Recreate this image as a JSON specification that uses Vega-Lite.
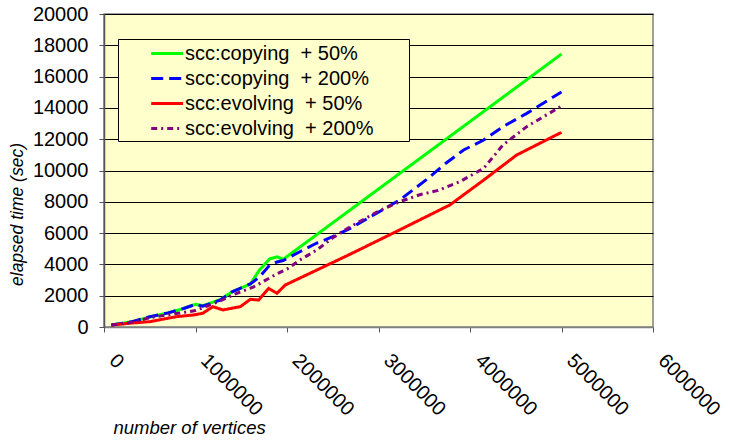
{
  "$schema": "https://vega.github.io/schema/vega-lite/v6.json",
  "width": 549,
  "height": 313,
  "autosize": {"type": "none"},
  "padding": {"left": 104, "top": 14, "right": 78, "bottom": 113},
  "background": "white",
  "config": {
    "font": "Liberation Sans",
    "view": {"fill": "#FFFFCC", "stroke": "#808080", "strokeWidth": 1.5}
  },
  "data": {
    "values": [
      {"series": "scc:copying\u00a0 + 50%", "x": 80000, "y": 130},
      {"series": "scc:copying\u00a0 + 50%", "x": 300000, "y": 330},
      {"series": "scc:copying\u00a0 + 50%", "x": 500000, "y": 640},
      {"series": "scc:copying\u00a0 + 50%", "x": 700000, "y": 900},
      {"series": "scc:copying\u00a0 + 50%", "x": 870000, "y": 1180},
      {"series": "scc:copying\u00a0 + 50%", "x": 1000000, "y": 1450},
      {"series": "scc:copying\u00a0 + 50%", "x": 1080000, "y": 1360},
      {"series": "scc:copying\u00a0 + 50%", "x": 1270000, "y": 1750},
      {"series": "scc:copying\u00a0 + 50%", "x": 1400000, "y": 2250},
      {"series": "scc:copying\u00a0 + 50%", "x": 1600000, "y": 2750},
      {"series": "scc:copying\u00a0 + 50%", "x": 1700000, "y": 3650},
      {"series": "scc:copying\u00a0 + 50%", "x": 1810000, "y": 4350},
      {"series": "scc:copying\u00a0 + 50%", "x": 1890000, "y": 4480},
      {"series": "scc:copying\u00a0 + 50%", "x": 1960000, "y": 4330},
      {"series": "scc:copying\u00a0 + 50%", "x": 5000000, "y": 17440},

      {"series": "scc:copying\u00a0 + 200%", "x": 80000, "y": 130},
      {"series": "scc:copying\u00a0 + 200%", "x": 300000, "y": 330},
      {"series": "scc:copying\u00a0 + 200%", "x": 500000, "y": 650},
      {"series": "scc:copying\u00a0 + 200%", "x": 700000, "y": 900},
      {"series": "scc:copying\u00a0 + 200%", "x": 870000, "y": 1180},
      {"series": "scc:copying\u00a0 + 200%", "x": 1000000, "y": 1450},
      {"series": "scc:copying\u00a0 + 200%", "x": 1080000, "y": 1330},
      {"series": "scc:copying\u00a0 + 200%", "x": 1270000, "y": 1720},
      {"series": "scc:copying\u00a0 + 200%", "x": 1400000, "y": 2250},
      {"series": "scc:copying\u00a0 + 200%", "x": 1600000, "y": 2750},
      {"series": "scc:copying\u00a0 + 200%", "x": 1700000, "y": 3200},
      {"series": "scc:copying\u00a0 + 200%", "x": 1810000, "y": 3950},
      {"series": "scc:copying\u00a0 + 200%", "x": 1890000, "y": 4150},
      {"series": "scc:copying\u00a0 + 200%", "x": 1960000, "y": 4250},
      {"series": "scc:copying\u00a0 + 200%", "x": 2140000, "y": 4810},
      {"series": "scc:copying\u00a0 + 200%", "x": 2320000, "y": 5350},
      {"series": "scc:copying\u00a0 + 200%", "x": 2500000, "y": 5770},
      {"series": "scc:copying\u00a0 + 200%", "x": 2690000, "y": 6300},
      {"series": "scc:copying\u00a0 + 200%", "x": 3230000, "y": 8110},
      {"series": "scc:copying\u00a0 + 200%", "x": 3520000, "y": 9400},
      {"series": "scc:copying\u00a0 + 200%", "x": 3740000, "y": 10480},
      {"series": "scc:copying\u00a0 + 200%", "x": 3930000, "y": 11310},
      {"series": "scc:copying\u00a0 + 200%", "x": 4150000, "y": 11950},
      {"series": "scc:copying\u00a0 + 200%", "x": 4360000, "y": 12800},
      {"series": "scc:copying\u00a0 + 200%", "x": 4620000, "y": 13650},
      {"series": "scc:copying\u00a0 + 200%", "x": 5000000, "y": 15020},

      {"series": "scc:evolving\u00a0 + 50%", "x": 80000, "y": 120},
      {"series": "scc:evolving\u00a0 + 50%", "x": 300000, "y": 250},
      {"series": "scc:evolving\u00a0 + 50%", "x": 500000, "y": 340},
      {"series": "scc:evolving\u00a0 + 50%", "x": 790000, "y": 660},
      {"series": "scc:evolving\u00a0 + 50%", "x": 980000, "y": 770},
      {"series": "scc:evolving\u00a0 + 50%", "x": 1080000, "y": 880},
      {"series": "scc:evolving\u00a0 + 50%", "x": 1190000, "y": 1300},
      {"series": "scc:evolving\u00a0 + 50%", "x": 1300000, "y": 1090},
      {"series": "scc:evolving\u00a0 + 50%", "x": 1490000, "y": 1300},
      {"series": "scc:evolving\u00a0 + 50%", "x": 1600000, "y": 1770},
      {"series": "scc:evolving\u00a0 + 50%", "x": 1690000, "y": 1720},
      {"series": "scc:evolving\u00a0 + 50%", "x": 1800000, "y": 2470},
      {"series": "scc:evolving\u00a0 + 50%", "x": 1890000, "y": 2150},
      {"series": "scc:evolving\u00a0 + 50%", "x": 1980000, "y": 2680},
      {"series": "scc:evolving\u00a0 + 50%", "x": 2690000, "y": 4650},
      {"series": "scc:evolving\u00a0 + 50%", "x": 3230000, "y": 6200},
      {"series": "scc:evolving\u00a0 + 50%", "x": 3780000, "y": 7800},
      {"series": "scc:evolving\u00a0 + 50%", "x": 4150000, "y": 9390},
      {"series": "scc:evolving\u00a0 + 50%", "x": 4510000, "y": 10990},
      {"series": "scc:evolving\u00a0 + 50%", "x": 5000000, "y": 12440},

      {"series": "scc:evolving\u00a0 + 200%", "x": 80000, "y": 120},
      {"series": "scc:evolving\u00a0 + 200%", "x": 300000, "y": 300},
      {"series": "scc:evolving\u00a0 + 200%", "x": 500000, "y": 590},
      {"series": "scc:evolving\u00a0 + 200%", "x": 700000, "y": 780},
      {"series": "scc:evolving\u00a0 + 200%", "x": 870000, "y": 930},
      {"series": "scc:evolving\u00a0 + 200%", "x": 1000000, "y": 1050},
      {"series": "scc:evolving\u00a0 + 200%", "x": 1200000, "y": 1500},
      {"series": "scc:evolving\u00a0 + 200%", "x": 1300000, "y": 1750},
      {"series": "scc:evolving\u00a0 + 200%", "x": 1450000, "y": 2150},
      {"series": "scc:evolving\u00a0 + 200%", "x": 1630000, "y": 2550},
      {"series": "scc:evolving\u00a0 + 200%", "x": 1800000, "y": 3100},
      {"series": "scc:evolving\u00a0 + 200%", "x": 1890000, "y": 3400},
      {"series": "scc:evolving\u00a0 + 200%", "x": 2000000, "y": 3700},
      {"series": "scc:evolving\u00a0 + 200%", "x": 2140000, "y": 4280},
      {"series": "scc:evolving\u00a0 + 200%", "x": 2320000, "y": 4900},
      {"series": "scc:evolving\u00a0 + 200%", "x": 2500000, "y": 5700},
      {"series": "scc:evolving\u00a0 + 200%", "x": 2690000, "y": 6400},
      {"series": "scc:evolving\u00a0 + 200%", "x": 3000000, "y": 7400},
      {"series": "scc:evolving\u00a0 + 200%", "x": 3230000, "y": 8000},
      {"series": "scc:evolving\u00a0 + 200%", "x": 3450000, "y": 8450},
      {"series": "scc:evolving\u00a0 + 200%", "x": 3640000, "y": 8710},
      {"series": "scc:evolving\u00a0 + 200%", "x": 3890000, "y": 9290},
      {"series": "scc:evolving\u00a0 + 200%", "x": 4150000, "y": 10140},
      {"series": "scc:evolving\u00a0 + 200%", "x": 4360000, "y": 11630},
      {"series": "scc:evolving\u00a0 + 200%", "x": 4620000, "y": 12800},
      {"series": "scc:evolving\u00a0 + 200%", "x": 5000000, "y": 14120}
    ]
  },
  "mark": {"type": "line", "strokeWidth": 3},
  "encoding": {
    "x": {
      "field": "x", "type": "quantitative",
      "scale": {"domain": [0, 6000000], "nice": false},
      "axis": {
        "title": "number of vertices",
        "titleFont": "Liberation Sans", "titleFontSize": 18.5, "titleFontStyle": "italic", "titleFontWeight": "normal",
        "titleAnchor": "start", "titleAlign": "left", "titleBaseline": "alphabetic",
        "titleX": 9, "titleY": 106, "titleColor": "black",
        "values": [0, 1000000, 2000000, 3000000, 4000000, 5000000, 6000000],
        "format": "d",
        "grid": false,
        "labelAngle": 45, "labelAlign": "left", "labelBaseline": "top",
        "labelPadding": 18, "labelOffset": 15,
        "labelFontSize": 20, "labelColor": "black",
        "labelOverlap": false, "labelFlush": false, "labelBound": false,
        "tickSize": 5, "tickColor": "#555555", "domainColor": "#808080", "domainWidth": 1.5
      }
    },
    "y": {
      "field": "y", "type": "quantitative",
      "scale": {"domain": [0, 20000], "nice": false},
      "axis": {
        "title": "elapsed time (sec)",
        "titleFont": "Liberation Sans", "titleFontSize": 17.5, "titleFontStyle": "italic", "titleFontWeight": "normal",
        "titleX": -87, "titleY": 200, "titleAngle": -90, "titleAlign": "center", "titleBaseline": "middle",
        "titleColor": "black",
        "values": [0, 2000, 4000, 6000, 8000, 10000, 12000, 14000, 16000, 18000, 20000],
        "format": "d",
        "grid": true, "gridColor": "black", "gridWidth": 1, "gridOpacity": 1,
        "labelFontSize": 20, "labelColor": "black", "labelPadding": 11,
        "tickSize": 5, "tickColor": "#555555", "domainColor": "#555555", "domainWidth": 1.5
      }
    },
    "color": {
      "field": "series", "type": "nominal",
      "scale": {
        "domain": ["scc:copying\u00a0 + 50%", "scc:copying\u00a0 + 200%", "scc:evolving\u00a0 + 50%", "scc:evolving\u00a0 + 200%"],
        "range": ["#00FF00", "#0000FF", "#FF0000", "#800080"]
      },
      "legend": {
        "title": null,
        "orient": "none", "legendX": 14, "legendY": 25,
        "fillColor": "#FFFFCC", "strokeColor": "black",
        "padding": 2, "rowPadding": 2,
        "symbolType": "M-1.3,0H1.6", "symbolSize": 484, "symbolStrokeWidth": 3, "symbolOffset": 33,
        "labelOffset": 7, "labelFontSize": 20, "labelColor": "black", "labelLimit": 400,
        "labelExpr": "datum.label + '\u00a0\u00a0\u00a0\u00a0\u00a0\u00a0\u200b'"
      }
    },
    "strokeDash": {
      "field": "series", "type": "nominal",
      "scale": {
        "domain": ["scc:copying\u00a0 + 50%", "scc:copying\u00a0 + 200%", "scc:evolving\u00a0 + 50%", "scc:evolving\u00a0 + 200%"],
        "range": [[1, 0], [12, 6], [1, 0], [6, 4, 2, 4]]
      },
      "legend": null
    }
  }
}
